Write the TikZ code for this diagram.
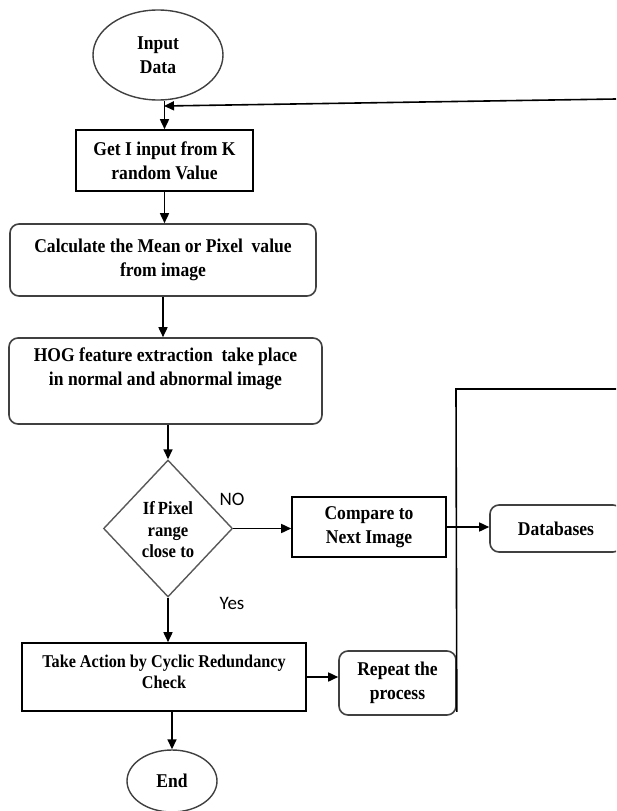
\documentclass[tikz,border=0pt]{standalone}
\usepackage{fontspec}
\setmainfont{Liberation Serif}[FakeStretch=0.9]
\newfontfamily\lblfont{Carlito}
\usetikzlibrary{shapes.geometric,arrows.meta}
\tikzset{
  base/.style={font=\bfseries\fontsize{19.5}{24}\selectfont, align=center, inner sep=0pt},
  sqbox/.style={base, draw=black, line width=1.6pt},
  rbox/.style={base, draw=black!75, line width=1.6pt, rounded corners=9pt},
  oval/.style={base, ellipse, draw=black!75, line width=1.4pt},
  dec/.style={base, diamond, draw=black!65, line width=1.4pt},
  txt/.style={base},
  lbl/.style={font=\lblfont\fontsize{19}{22}\selectfont, inner sep=0pt},
  arr/.style={-{Triangle[length=10pt,width=9pt]}, line width=1.6pt},
  ln/.style={line width=1.6pt}
}
\begin{document}
\begin{tikzpicture}[x=1pt,y=-1pt]
\useasboundingbox (0,0) rectangle (616,811);
\clip (0,0) rectangle (616,811);
\fill[white] (0,0) rectangle (616,811);

\node[oval, minimum width=130pt, minimum height=90pt] (in) at (158,55) {Input\\Data};
\node[sqbox, minimum width=177pt, minimum height=61pt] (get) at (164.5,160.5) {Get I input from K\\random Value};
\node[rbox, minimum width=306pt, minimum height=72pt] (calc) at (163,260) {Calculate the Mean or Pixel\ \ value\\from image};
\node[rbox, minimum width=313pt, minimum height=86pt] (hog) at (165.5,381) {};
\node[txt] (hogt) at (165.5,369) {HOG feature extraction\ \ take place\\in normal and abnormal image};
\node[dec, minimum width=129pt, minimum height=137pt] (d) at (168,528.5) {};
\node[txt, font=\bfseries\fontsize{18.5}{21.5}\selectfont] (dt) at (168,530) {If\,Pixel\\range\\close to};
\node[lbl] (no) at (232,499) {NO};
\node[lbl] (yes) at (232,603) {Yes};
\node[sqbox, minimum width=154pt, minimum height=60pt] (cmp) at (369,527) {Compare to\\Next Image};
\node[rbox, minimum width=132pt, minimum height=47pt] (db) at (556,528.5) {Databases};
\node[sqbox, minimum width=284pt, minimum height=68pt] (crc) at (164,677) {};
\node[txt, font=\bfseries\fontsize{18}{20.5}\selectfont] (crct) at (164,672) {Take Action by Cyclic Redundancy\\Check};
\node[rbox, minimum width=117pt, minimum height=64pt] (rep) at (397.5,683) {Repeat the\\process};
\node[oval, minimum width=90pt, minimum height=62pt] (end) at (172,781) {End};

\coordinate (fbR) at (616,99);
\coordinate (fbL) at (164,106);
\coordinate (loopTop) at (456,389);
\coordinate (loopR) at (616,389);

\draw[arr] (in.south -| get.north) -- (get.north);
\draw[arr] (fbR) -- (fbL);
\draw[arr] (get.south) -- (get.south |- calc.north);
\draw[arr] (calc.south) -- (calc.south |- hog.north);
\draw[arr] (d.north |- hog.south) -- (d.north);
\draw[arr] (d.east) -- (cmp.west |- d.east);
\draw[arr] (cmp.east) -- (db.west |- cmp.east);
\draw[arr] (d.south) -- (d.south |- crc.north);
\draw[arr] (crc.east) -- (crc.east -| rep.west);
\draw[arr] (end.north |- crc.south) -- (end.north);
\draw[ln] (rep.south east) ++(0,-4) -- (loopTop) -- (loopR);
\end{tikzpicture}
\end{document}
